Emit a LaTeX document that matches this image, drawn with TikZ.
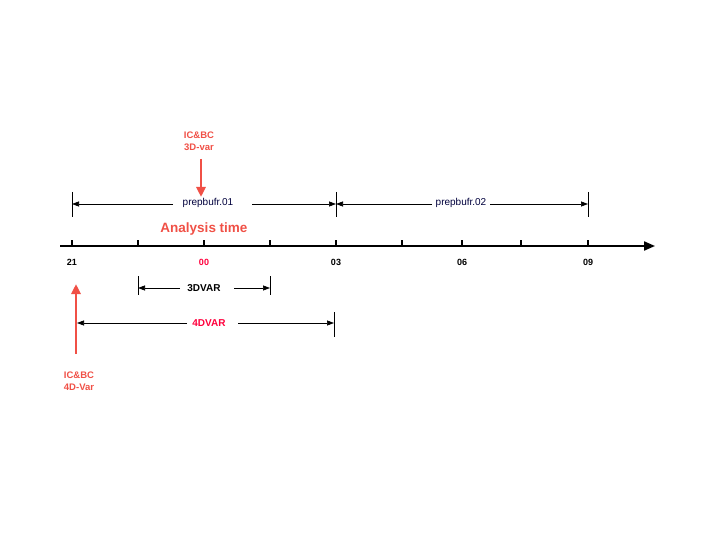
\documentclass[tikz,border=0pt]{standalone}
\usepackage{fontspec}
\setmainfont{Liberation Sans}
\usetikzlibrary{arrows.meta}
\definecolor{coral}{RGB}{240,80,70}
\definecolor{pinkred}{RGB}{255,0,60}
\definecolor{navy}{RGB}{0,0,60}
\begin{document}
\begin{tikzpicture}[x=1pt,y=-1pt,
  lbl/.style={font=\bfseries\fontsize{9}{10}\selectfont, inner sep=1pt},
  dimtxt/.style={font=\fontsize{10}{11}\selectfont, inner sep=1pt},
  dimline/.style={line width=0.7pt, -{Triangle[length=7pt,width=5pt]}},
  bar/.style={line width=0.8pt},
  redarrow/.style={coral, line width=2.8pt, -{Triangle[length=10pt,width=9pt]}},
  redtxt/.style={coral, font=\bfseries\fontsize{9.5}{11.5}\selectfont, align=center, inner sep=0pt}
]
\useasboundingbox (0,0) rectangle (720,540);
% axis
\coordinate (axL) at (60,246);
\coordinate (axR) at (655,246);
\draw[line width=2pt, -{Triangle[length=11pt,width=9pt]}] (axL) -- (axR);
\foreach \x in {72,138,204,270,336,402,462,521,588}
  \draw[line width=1.6pt] (\x,246) -- (\x,240);
% tick labels
\node[lbl] (t21) at (72,262) {21};
\node[lbl, pinkred] (t00) at (204,262) {00};
\node[lbl] (t03) at (336,262) {03};
\node[lbl] (t06) at (462,262) {06};
\node[lbl] (t09) at (588,262) {09};
% prepbufr.01
\coordinate (p1a) at (72,204); \coordinate (p1b) at (336,204); \coordinate (p2b) at (588,204);
\draw[bar] (72,192) -- (72,217);
\draw[bar] (336,192) -- (336,217);
\draw[bar] (588,192) -- (588,217);
\node[dimtxt, navy] (pb1) at (208,203) {prepbufr.01};
\draw[dimline] (173,204) -- (p1a);
\draw[dimline] (252,204) -- (p1b);
\node[dimtxt, navy] (pb2) at (461,203) {prepbufr.02};
\draw[dimline] (432,204) -- (p1b);
\draw[dimline] (490,204) -- (p2b);
% analysis time
\node[coral, font=\bfseries\fontsize{13.5}{15}\selectfont] (at) at (204,229) {Analysis time};
% IC&BC 3D-var
\node[redtxt] (ic3) at (199,141) {IC\&BC\\3D-var};
\coordinate (ic3e) at (201,197);
\draw[redarrow] (201,159) -- (ic3e);
% 3DVAR
\draw[bar] (138,276) -- (138,295);
\draw[bar] (270,276) -- (270,295);
\node[lbl, font=\bfseries\fontsize{10}{11}\selectfont] (v3) at (204,288) {3DVAR};
\draw[dimline] (180,288) -- (138,288);
\draw[dimline] (234,288) -- (270,288);
% 4DVAR
\draw[bar] (334,312) -- (334,337);
\node[lbl, pinkred, font=\bfseries\fontsize{10}{11}\selectfont] (v4) at (209,323) {4DVAR};
\draw[dimline] (187,323) -- (77,323);
\draw[dimline] (238,323) -- (334,323);
% IC&BC 4D-Var
\coordinate (ic4e) at (76,284);
\draw[redarrow] (76,354) -- (ic4e);
\node[redtxt] (ic4) at (79,381) {IC\&BC\\4D-Var};
\end{tikzpicture}
\end{document}
